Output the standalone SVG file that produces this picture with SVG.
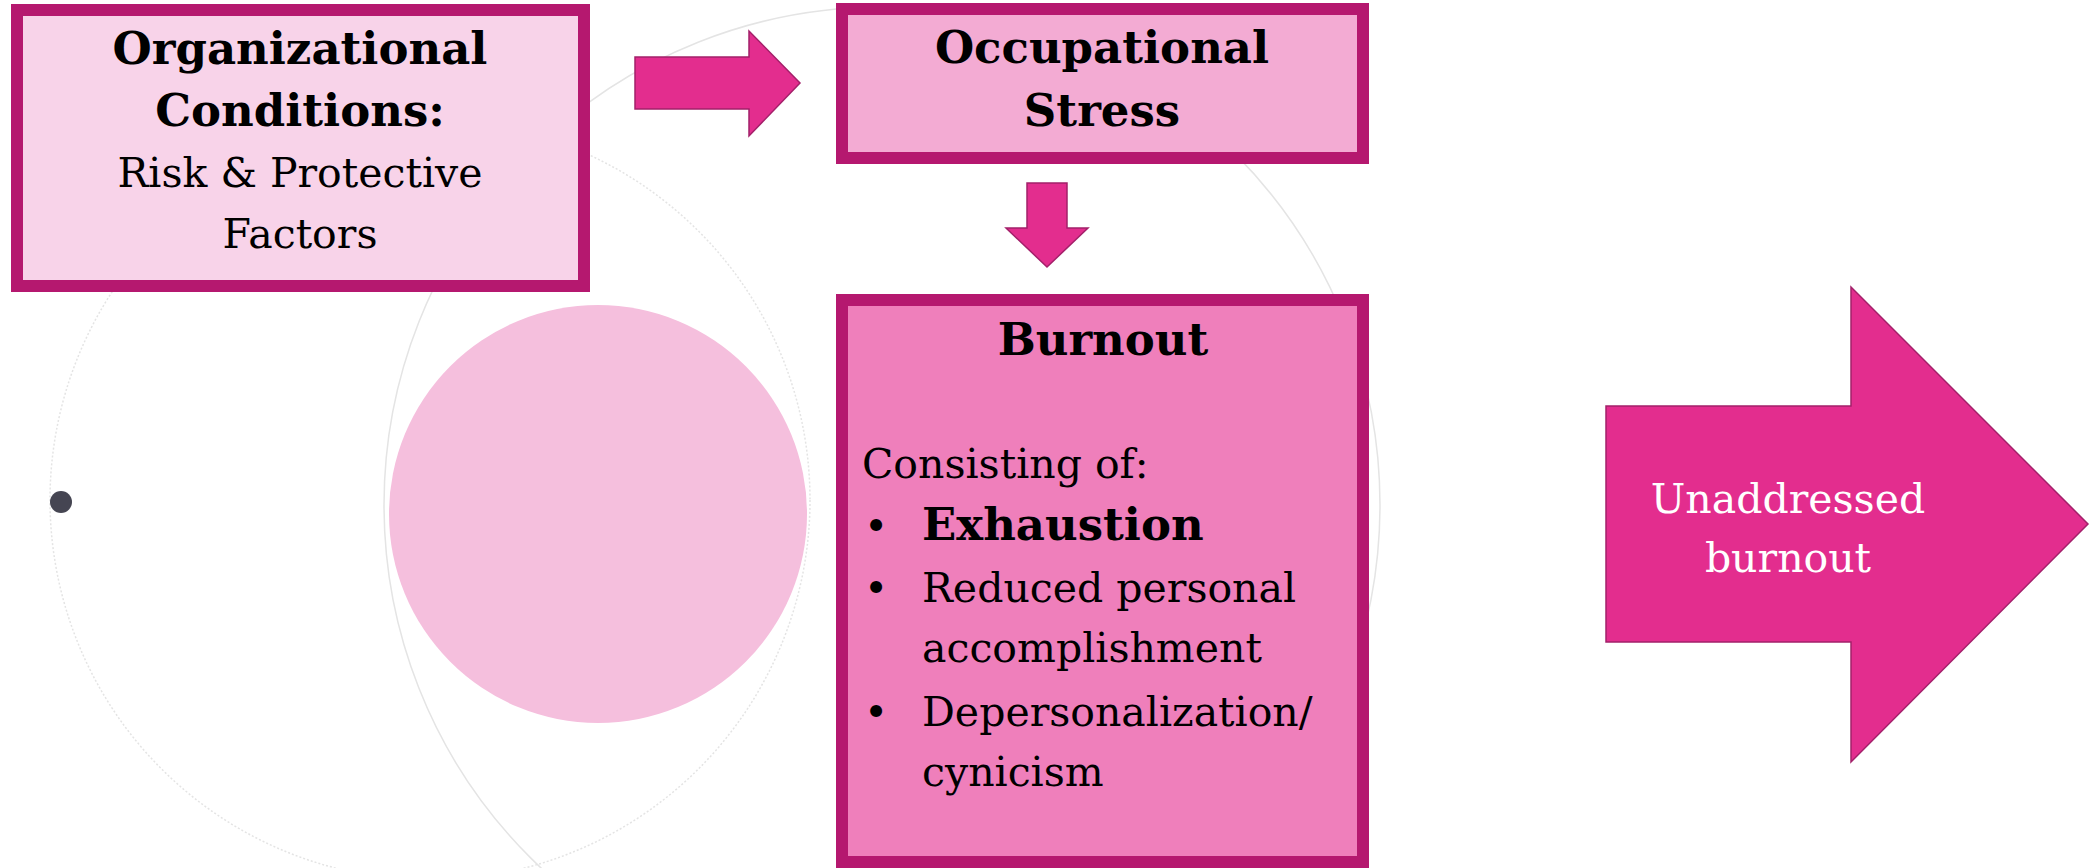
<svg xmlns="http://www.w3.org/2000/svg" width="2097" height="868" viewBox="0 0 2097 868">
<style>
.box{stroke:#B5186F;stroke-width:12}
.arrow{fill:#E32D8E;stroke:#A3206A;stroke-width:1.5;stroke-linejoin:miter}
.t{font-family:"DejaVu Serif","Liberation Serif",serif;fill:#000;font-size:41px}
.b{font-weight:bold;font-size:45px}
.c{text-anchor:middle}
.ring{fill:none;stroke:#e4e4e4;stroke-width:1.5}
</style>
<rect width="2097" height="868" fill="#ffffff"/>
<g id="background">
<circle class="ring" cx="430" cy="500" r="380" stroke-dasharray="2 2"/>
<circle class="ring" cx="882" cy="505" r="498"/>
<circle cx="598" cy="514" r="209" fill="#F5BFDD"/>
<circle cx="61" cy="502" r="11" fill="#454552"/>
</g>
<g id="connectors">
<polygon class="arrow" points="635,57 749,57 749,31 800,83 749,136 749,109 635,109"/>
<polygon class="arrow" points="1027,183 1067,183 1067,228 1088,228 1047,267 1006,228 1027,228"/>
</g>
<g id="node-organizational">
<rect class="box" x="17" y="10" width="567" height="276" fill="#F8D3E9"/>
<text class="t b c" x="300" y="64">Organizational</text>
<text class="t b c" x="300" y="126">Conditions:</text>
<text class="t c" x="300" y="187">Risk &amp; Protective</text>
<text class="t c" x="300" y="248">Factors</text>
</g>
<g id="node-stress">
<rect class="box" x="842" y="9" width="521" height="149" fill="#F3ABD3"/>
<text class="t b c" x="1102" y="63">Occupational</text>
<text class="t b c" x="1102" y="126">Stress</text>
</g>
<g id="node-burnout">
<rect class="box" x="842" y="300" width="521" height="562" fill="#EF7FBB"/>
<text class="t b c" x="1103" y="355">Burnout</text>
<text class="t" x="862" y="478">Consisting of:</text>
<text class="t" x="864" y="540">•</text>
<text class="t b" x="922" y="540">Exhaustion</text>
<text class="t" x="864" y="602">•</text>
<text class="t" x="922" y="602">Reduced personal</text>
<text class="t" x="922" y="662">accomplishment</text>
<text class="t" x="864" y="726">•</text>
<text class="t" x="922" y="726">Depersonalization/</text>
<text class="t" x="922" y="786">cynicism</text>
</g>
<g id="node-unaddressed">
<polygon class="arrow" points="1606,406 1851,406 1851,287 2088,524 1851,762 1851,642 1606,642"/>
<text class="t c" x="1788" y="513" style="fill:#ffffff">Unaddressed</text>
<text class="t c" x="1788" y="572" style="fill:#ffffff">burnout</text>
</g>
</svg>
